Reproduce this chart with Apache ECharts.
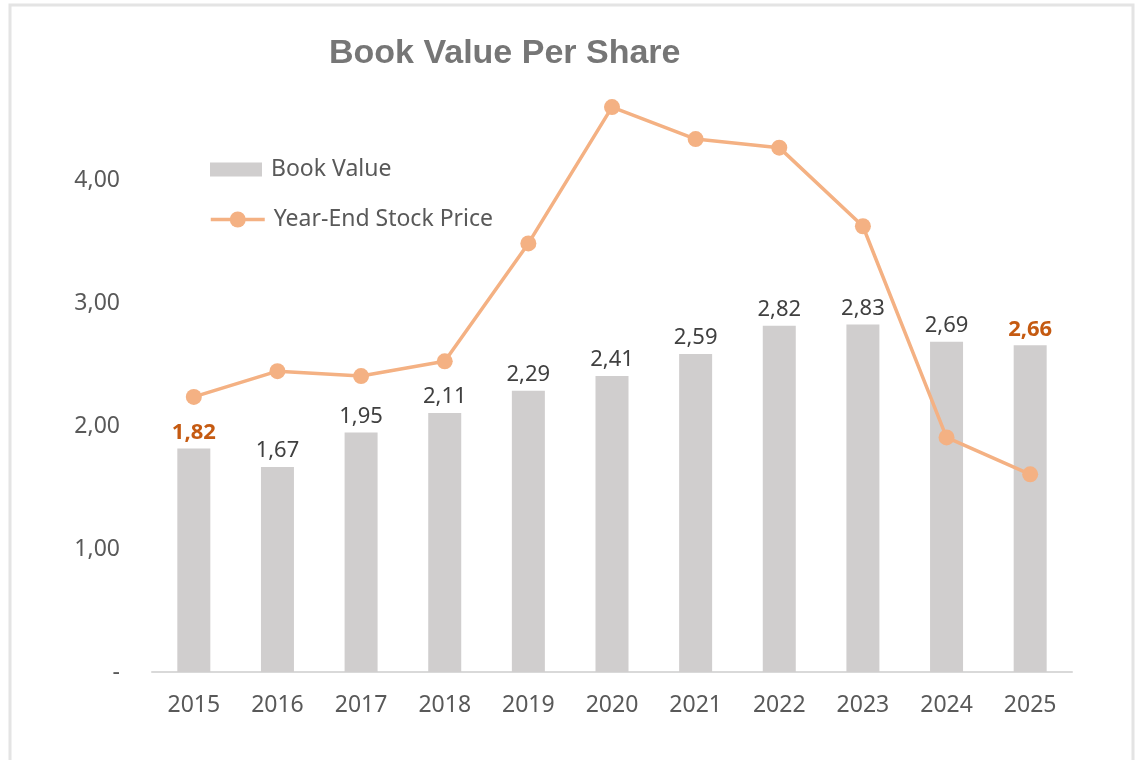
<!DOCTYPE html>
<html>
<head>
<meta charset="utf-8">
<style>
  html, body { margin: 0; padding: 0; background: #fff; }
  #main { width: 1142px; height: 760px; }
</style>
<script src="https://cdn.jsdelivr.net/npm/echarts@6/dist/echarts.min.js"></script>
</head>
<body>
<div id="main"></div>
<script>
// 数据
var years = ['2015', '2016', '2017', '2018', '2019', '2020', '2021', '2022', '2023', '2024', '2025'];
var bookValue = [1.82, 1.67, 1.95, 2.11, 2.29, 2.41, 2.59, 2.82, 2.83, 2.69, 2.66];
var stockPrice = [2.24, 2.45, 2.41, 2.53, 3.49, 4.60, 4.34, 4.27, 3.63, 1.91, 1.61];
var yTicks = ['-', '1,00', '2,00', '3,00', '4,00', ''];
var highlight = ['2015', '2025'];

var font = "'Noto Sans', sans-serif";

function fmt(v) {
  return v.toFixed(2).replace('.', ',');
}

var legendText = { fontFamily: font, fontSize: 23, color: '#595959', padding: [0, 0, 0, 4] };

var myChart = echarts.init(document.getElementById('main'));
myChart.setOption({
  animation: false,
  title: {
    text: 'Book Value Per Share',
    left: 329,
    top: 37,
    padding: 0,
    textStyle: {
      fontFamily: "'Liberation Sans', sans-serif",
      fontWeight: 'bold',
      fontSize: 34,
      color: '#767676'
    }
  },
  graphic: [{
    type: 'rect',
    z: -1,
    shape: { x: 10, y: 5, width: 1123, height: 800 },
    style: { fill: 'none', stroke: '#E4E4E4', lineWidth: 3 }
  }],
  legend: [{
    orient: 'vertical',
    left: 210,
    top: 158,
    padding: 0,
    itemWidth: 52,
    itemHeight: 14,
    textStyle: legendText,
    data: [{ name: 'Book Value', icon: 'rect' }]
  }, {
    orient: 'vertical',
    left: 209,
    top: 208,
    padding: 0,
    itemWidth: 54,
    itemHeight: 20,
    lineStyle: { width: 3.5, color: '#F4B183' },
    textStyle: legendText,
    data: ['Year-End Stock Price']
  }],
  grid: { left: 152, right: 70, top: 58, bottom: 88 },
  xAxis: {
    type: 'category',
    data: years,
    axisLine: { lineStyle: { color: '#D9D9D9', width: 2 } },
    axisTick: { show: false },
    axisLabel: { fontFamily: font, fontSize: 23, color: '#595959', margin: 22 }
  },
  yAxis: {
    type: 'value',
    min: 0,
    max: 5,
    interval: 1,
    splitLine: { show: false },
    axisLine: { show: false },
    axisTick: { show: false },
    axisLabel: {
      fontFamily: font, fontSize: 23, color: '#595959', margin: 32,
      formatter: function (v) { return yTicks[Math.round(v)]; }
    }
  },
  series: [{
    name: 'Book Value',
    type: 'bar',
    data: bookValue.map(function (v, i) {
      // 首尾两年标签加粗橙色
      if (highlight.indexOf(years[i]) >= 0) {
        return { value: v, label: { color: '#C55A11', fontWeight: 'bold' } };
      }
      return v;
    }),
    barWidth: 33,
    itemStyle: { color: '#D0CECE' },
    label: {
      show: true,
      position: 'top',
      distance: 5,
      fontFamily: font,
      fontSize: 22,
      formatter: function (p) { return fmt(p.value); },
      color: '#404040'
    }
  }, {
    name: 'Year-End Stock Price',
    type: 'line',
    data: stockPrice,
    symbol: 'circle',
    symbolSize: 16,
    lineStyle: { color: '#F4B183', width: 3.5 },
    itemStyle: { color: '#F4B183' },
    z: 3
  }]
});
</script>
</body>
</html>
